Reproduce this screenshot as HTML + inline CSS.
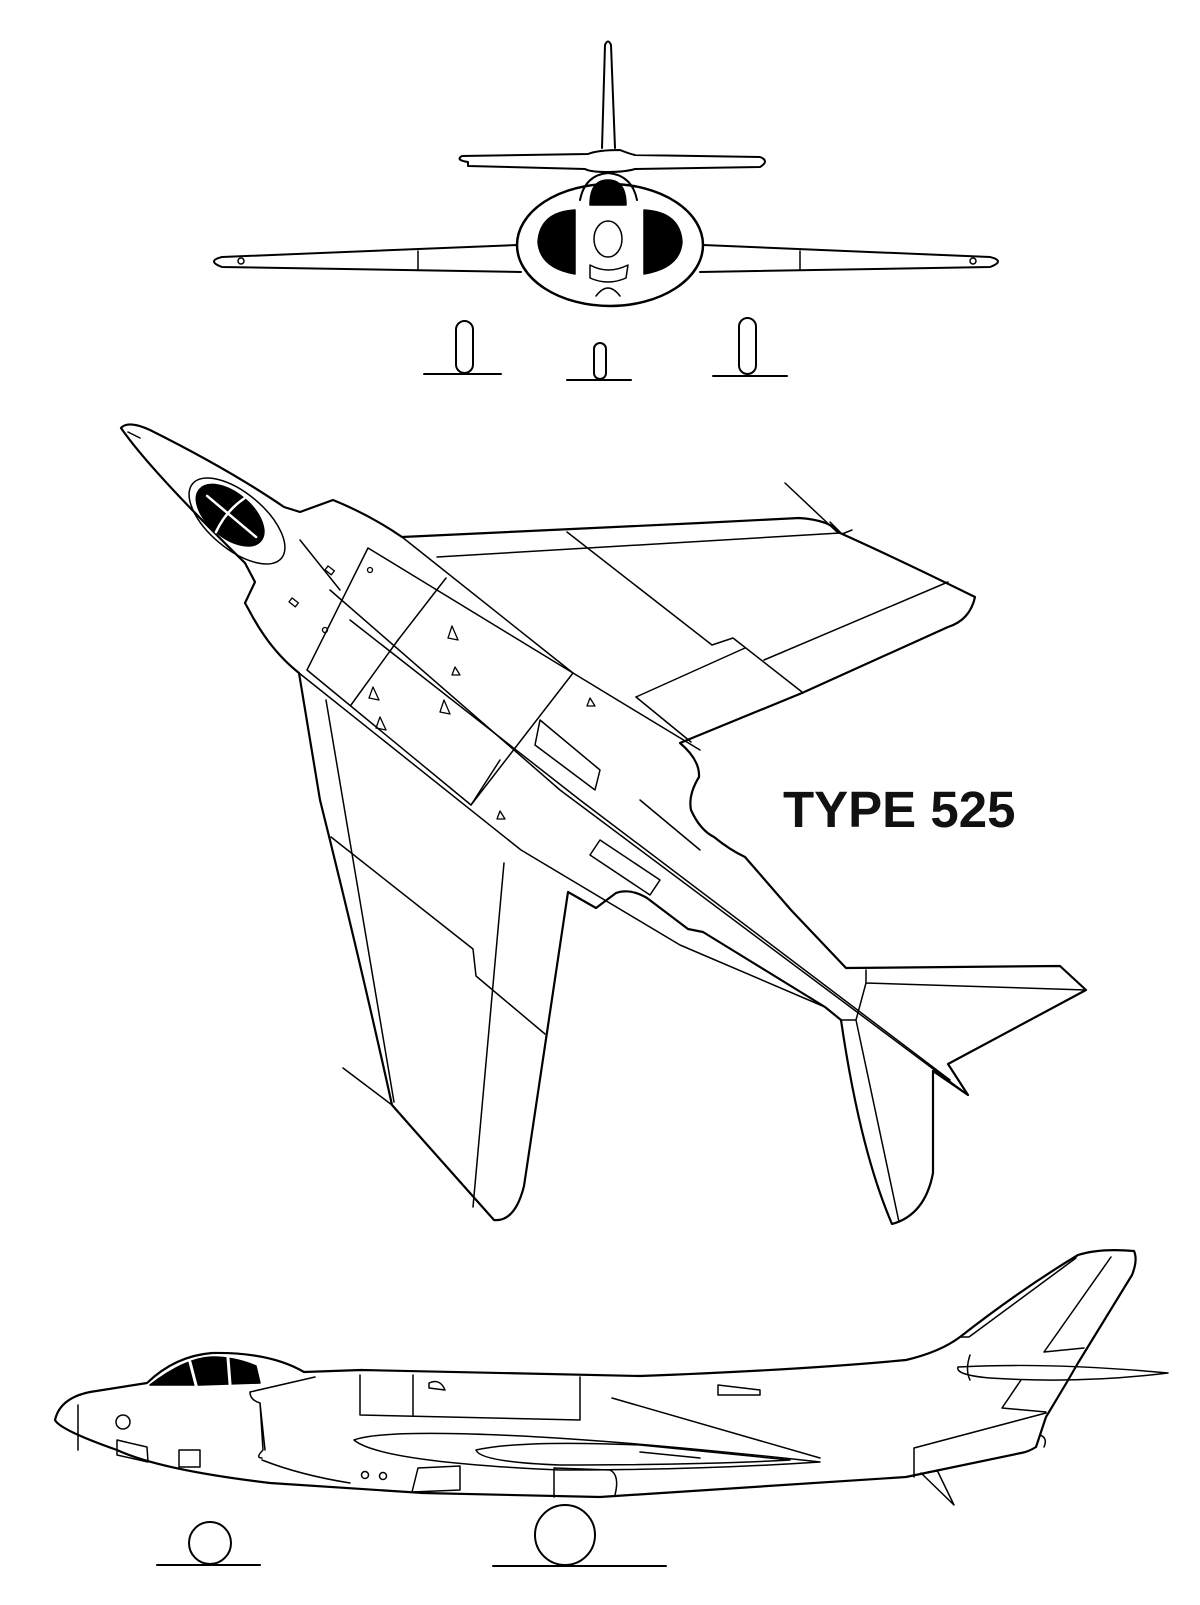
<!DOCTYPE html>
<html><head><meta charset="utf-8"><style>
html,body{margin:0;padding:0;background:#fff}
svg{display:block}
</style></head><body>
<svg width="1200" height="1605" viewBox="0 0 1200 1605" xmlns="http://www.w3.org/2000/svg" fill="none" stroke="#000" stroke-width="1.5" stroke-linejoin="round" stroke-linecap="round">
<!-- FRONT VIEW -->
<path d="M602,148 L605,45 Q608,38 611,45 L615,148" stroke-width="2"/>
<path d="M468,162 Q455,160 462,156 L588,154 Q598,150 620,150 Q630,154 635,155 L760,157 Q770,161 760,167 L635,169 Q625,172 608,172 Q590,172 585,169 L468,166 Z" stroke-width="2"/>
<ellipse cx="610" cy="245" rx="93" ry="61" stroke-width="2.5"/>
<path d="M580,200 Q585,175 608,173 Q632,175 637,200" stroke-width="2"/>
<path d="M590,205 Q590,180 608,180 Q626,180 626,205 Z" fill="#000"/>
<path d="M575,210 Q540,212 538,242 Q540,268 575,274 Z" fill="#000"/>
<path d="M644,210 Q680,212 682,242 Q680,268 644,274 Z" fill="#000"/>
<ellipse cx="608" cy="239" rx="14" ry="18"/>
<path d="M590,265 Q608,275 628,265 L626,278 Q608,286 590,278 Z"/>
<path d="M596,296 Q608,280 620,296"/>
<path d="M517,245 L222,257 Q206,261 222,267 L521,272" stroke-width="2"/>
<path d="M703,245 L990,257 Q1006,261 990,267 L700,272" stroke-width="2"/>
<circle cx="241" cy="261" r="3"/><circle cx="973" cy="261" r="3"/>
<line x1="418" y1="251" x2="418" y2="269"/><line x1="800" y1="251" x2="800" y2="269"/>
<rect x="456" y="321" width="17" height="52" rx="8.5" stroke-width="2"/>
<rect x="739" y="318" width="17" height="56" rx="8.5" stroke-width="2"/>
<rect x="594" y="343" width="12" height="36" rx="6" stroke-width="2"/>
<line x1="424" y1="374" x2="501" y2="374" stroke-width="2"/>
<line x1="713" y1="376" x2="787" y2="376" stroke-width="2"/>
<line x1="567" y1="380" x2="631" y2="380" stroke-width="2"/>

<!-- PLAN VIEW outline -->
<path d="M121,428 Q128,420 150,430 Q230,470 284,507 L300,512 L333,500 Q370,515 402,537 L700,523 L799,518 Q830,520 840,533 Q900,560 975,597 Q970,620 948,627 L802,693 L680,743 Q700,760 699,777 Q688,795 691,810 Q700,830 714,837 Q730,850 745,857 L791,910 L846,968 L1060,966 L1086,990 L948,1064 L968,1095 L933,1071 L933,1173 Q925,1215 892,1224 Q860,1150 841,1020 L825,1007 L703,932 L688,929 L647,898 Q630,888 616,893 L596,908 L568,892 L524,1186 Q515,1222 494,1220 L422,1139 L392,1105 Q360,960 320,800 L299,673 Q270,650 250,612 L245,603 L255,582 L245,563 Q150,470 121,428 Z" stroke-width="2.2"/>
<path d="M140,438 L128,432"/>
<!-- spikes -->
<path d="M785,483 L837,532 M343,1068 L392,1105"/>
<path d="M830,522 L842,534 L852,530"/>
<!-- canopy -->
<g transform="rotate(40 237 521)">
<ellipse cx="237" cy="521" rx="58" ry="28"/>
<ellipse cx="228" cy="521" rx="40" ry="22" fill="#000"/>
<path d="M228,499 Q222,521 228,543 M198,521 L262,521" stroke="#fff" stroke-width="2.5"/>
</g>
<path d="M300,540 L340,590"/>
<!-- fuselage inner lines -->
<path d="M402,537 L573,673 L700,750"/>
<path d="M299,673 L521,850 L680,945 L825,1007"/>
<path d="M330,590 L560,790 L968,1095"/>
<path d="M350,620 L580,800 L950,1080"/>
<path d="M307,670 L368,548 M368,548 L573,673 L471,805 L307,670"/>
<path d="M398,640 L446,578"/>
<path d="M351,705 L398,640 M471,805 L500,760"/>
<path d="M540,720 L600,770 L595,790 L535,745 Z"/>
<path d="M600,840 L660,880 L650,895 L590,855 Z"/>
<path d="M640,800 L700,850"/>
<!-- right wing inner -->
<path d="M437,557 L840,533"/>
<path d="M567,532 L712,645 L733,638 L802,692"/>
<path d="M636,697 L745,648 M764,660 L948,582"/>
<path d="M636,697 L691,742"/>
<!-- left wing inner -->
<path d="M326,700 L394,1102"/>
<path d="M331,837 L473,949 L476,976 L545,1034"/>
<path d="M504,863 L473,1207"/>
<!-- tailplane inner -->
<path d="M866,970 L866,983 L1086,990 M866,983 L856,1020 L841,1020 M856,1020 L899,1222"/>
<!-- small triangles / markings -->
<g stroke-width="1.3">
<path d="M452,626 L458,640 L448,638 Z M444,700 L450,714 L440,712 Z M373,687 L379,700 L369,698 Z M380,717 L386,730 L376,728 Z M590,698 L595,706 L587,706 Z M500,811 L505,819 L497,819 Z M455,667 L460,675 L452,675 Z"/>
<rect x="326" y="568" width="8" height="5" transform="rotate(38 330 570)"/>
<rect x="290" y="600" width="8" height="5" transform="rotate(38 294 602)"/>
<circle cx="370" cy="570" r="2.5"/><circle cx="325" cy="630" r="2.5"/>
</g>
<text x="783" y="827" font-family="Liberation Sans, sans-serif" font-weight="bold" font-size="51" fill="#111" stroke="none">TYPE 525</text>

<!-- SIDE VIEW -->
<path d="M55,1420 Q60,1398 90,1392 L147,1383 Q175,1356 212,1353 Q270,1352 304,1372 L361,1370 L640,1376 Q800,1370 906,1360 Q940,1352 960,1337 Q1020,1290 1078,1255 Q1100,1248 1134,1251 Q1138,1260 1132,1275 L1078,1363 L1067,1382 L1046,1417 L1036,1447 Q1028,1452 1021,1453 L906,1477 L600,1497 L423,1493 L270,1483 Q160,1470 117,1450 Q60,1430 55,1420 Z" stroke-width="2.2"/>
<path d="M150,1385 Q185,1358 212,1357 Q235,1357 256,1366 L260,1383 L200,1385 Z" fill="#000"/>
<path d="M197,1389 L190,1362 M230,1384 L228,1358" stroke="#fff" stroke-width="3"/>
<path d="M78,1405 L78,1450"/>
<circle cx="123" cy="1422" r="7"/>
<path d="M117,1440 L147,1447 L148,1462 L117,1455 Z M179,1450 L200,1450 L200,1467 L179,1467 Z"/>
<path d="M315,1377 L250,1392 Q250,1400 260,1403 L263,1450 Q255,1458 262,1458 M260,1403 L265,1450"/>
<path d="M262,1460 Q300,1475 350,1483"/>
<path d="M360,1375 L360,1415 L580,1420 L580,1377 M413,1375 L413,1416"/>
<path d="M429,1383 Q440,1378 445,1390 L429,1388 Z"/>
<path d="M354,1440 Q380,1430 500,1435 Q620,1440 820,1462 Q700,1470 560,1470 Q380,1462 354,1440 Z"/>
<path d="M476,1450 Q520,1440 640,1445 L790,1460 Q700,1465 560,1465 Q480,1462 476,1450 Z"/>
<path d="M612,1398 L820,1458"/>
<path d="M640,1452 L700,1458"/>
<path d="M718,1385 L760,1390 L760,1395 L718,1395 Z"/>
<circle cx="365" cy="1475" r="3.5"/><circle cx="383" cy="1476" r="3.5"/>
<path d="M418,1468 L460,1466 L460,1490 L412,1492 Z"/>
<path d="M554,1468 L554,1497 M554,1468 L610,1470 Q620,1475 615,1495"/>
<path d="M960,1337 L969,1337 L1076,1258 M1044,1352 L1111,1257 M1044,1352 L1084,1348"/>
<path d="M958,1367 Q1050,1362 1168,1373 Q1080,1384 990,1378 Q955,1375 958,1367 Z"/>
<path d="M970,1355 Q965,1370 970,1380"/>
<path d="M1021,1380 L1002,1408 L1046,1412"/>
<path d="M914,1448 L914,1477 M914,1448 L1046,1413"/>
<path d="M937,1470 L954,1505 L921,1473 M928,1472 L938,1471"/>
<path d="M1040,1435 Q1048,1438 1044,1447"/>
<ellipse cx="210" cy="1543" rx="21" ry="21" stroke-width="2"/>
<ellipse cx="565" cy="1535" rx="30" ry="30" stroke-width="2"/>
<line x1="157" y1="1565" x2="260" y2="1565" stroke-width="2"/>
<line x1="493" y1="1566" x2="666" y2="1566" stroke-width="2"/>
</svg>
</body></html>
